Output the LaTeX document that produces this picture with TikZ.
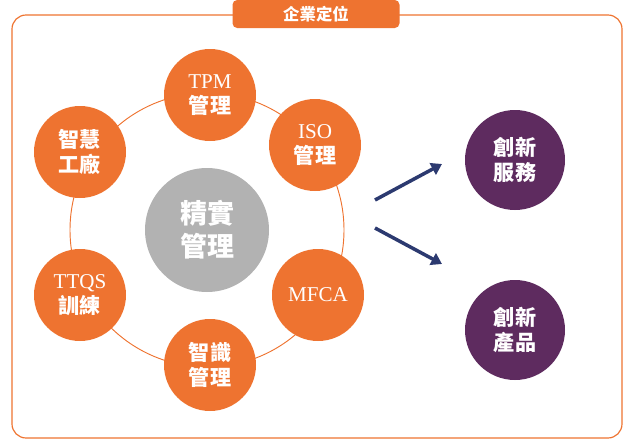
\documentclass[tikz,border=0pt]{standalone}
\usepackage{fontspec}
\setmainfont{Liberation Serif}
\newfontfamily\cjk{Noto Sans CJK TC}
\usetikzlibrary{arrows.meta}
\definecolor{org}{HTML}{EE7330}
\definecolor{pur}{HTML}{5E2B5F}
\definecolor{nav}{HTML}{2C3A70}
\newcommand{\zh}[1]{{\cjk\bfseries #1}}
\begin{document}
\begin{tikzpicture}[x=0.03cm,y=-0.03cm,
  oc/.style={circle,fill=org,minimum size=92*0.03cm,inner sep=0,text=white,font=\fontsize{18}{21}\selectfont,align=center},
  pc/.style={circle,fill=pur,minimum size=100*0.03cm,inner sep=0,text=white,font=\fontsize{18}{21}\selectfont,align=center},
  arr/.style={nav,line width=3pt,-{Triangle[length=9pt,width=11pt]}}]
\useasboundingbox (0,0) rectangle (632,445);
\draw[org,line width=1pt,rounded corners=12pt] (12,15) rectangle (622,438);
\node[fill=org,rounded corners=4pt,minimum width=167*0.03cm,minimum height=28*0.03cm,text=white,font=\fontsize{14}{16}\selectfont] (t) at (316,14) {\zh{企業定位}};
\draw[org,line width=0.8pt] (207,230) circle[radius=137];
\node[circle,fill=gray!60,minimum size=124*0.03cm,text=white,font=\fontsize{23}{28}\selectfont,align=center] (c) at (207,230) {\zh{精實}\\\zh{管理}};
\node[oc] (a) at (210,95) {TPM\\\zh{管理}};
\node[oc] (b) at (315,145) {ISO\\\zh{管理}};
\node[oc] (m) at (318,295) {MFCA};
\node[oc] (d) at (210,365) {\zh{智識}\\\zh{管理}};
\node[oc] (e) at (80,295) {TTQS\\\zh{訓練}};
\node[oc] (f) at (80,152) {\zh{智慧}\\\zh{工廠}};
\node[pc] (p1) at (515,160) {\zh{創新}\\\zh{服務}};
\node[pc] (p2) at (515,330) {\zh{創新}\\\zh{產品}};
\coordinate (s1) at (375,200); \coordinate (e1) at (442,164);
\coordinate (s2) at (375,228); \coordinate (e2) at (442,264);
\draw[arr] (s1) -- (e1);
\draw[arr] (s2) -- (e2);
\end{tikzpicture}
\end{document}
